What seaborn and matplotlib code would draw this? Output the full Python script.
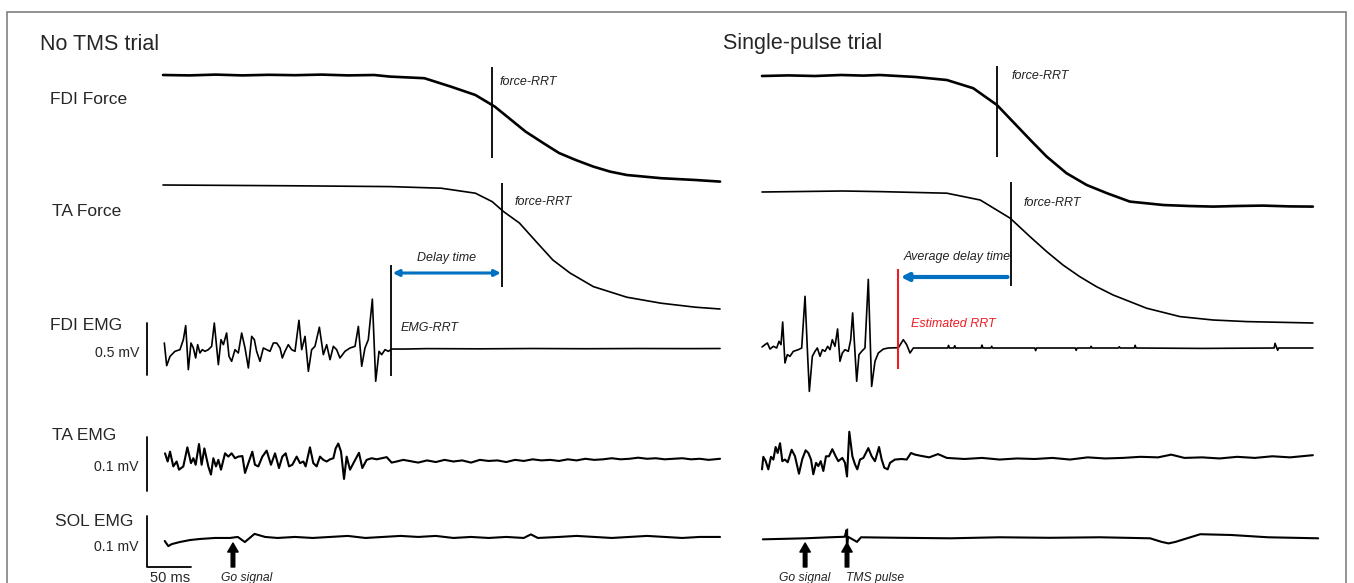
import numpy as np
import matplotlib
matplotlib.use("Agg")
import matplotlib.pyplot as plt
import seaborn as sns
from matplotlib.patches import Rectangle

# ---------------- data (time in ms from sweep start) ----------------
# No TMS trial
nt_fdi_force_t = [0, 30, 60, 90, 120, 150, 180, 210, 240, 258, 297, 327, 355, 377, 393, 412, 432, 450, 469, 489,
                  508, 527, 566, 605, 633]
nt_fdi_force_n = [5.4, 5.38, 5.42, 5.38, 5.41, 5.39, 5.42, 5.38, 5.4, 5.32, 5.24, 4.82, 4.4, 3.82, 3.25, 2.57,
                  2.0, 1.5, 1.15, 0.82, 0.57, 0.4, 0.24, 0.15, 0.07]
nt_ta_force_t = [0, 150, 258, 316, 355, 374, 387, 405, 424, 443, 462.5, 489, 527, 566, 605, 633]
nt_ta_force_n = [6.2, 6.16, 6.12, 6.04, 5.79, 5.37, 4.87, 4.3, 3.37, 2.45, 1.8, 1.12, 0.59, 0.29, 0.09, 0.0]

nt_fdi_emg_t = [1.5, 4.2, 8.0, 13.6, 19.3, 23.1, 25.8, 28.8, 31.8, 34.5, 37.1, 39.4, 42.0, 44.7, 47.7, 51.5,
                55.3, 58.3, 62.9, 65.9, 68.6, 72.3, 75.0, 78.0, 81.8, 85.6, 89.4, 93.2, 97.0, 100.8, 103.8,
                106.4, 110.2, 114.0, 117.8, 121.6, 125.4, 129.2, 133.0, 135.6, 138.6, 142.4, 146.2, 150.0,
                154.5, 157.6, 161.4, 165.2, 168.9, 172.7, 177.7, 182.2, 186.0, 189.8, 193.6, 197.3, 201.1,
                206.8, 212.5, 218.2, 222.0, 225.8, 229.5, 233.3, 237.9, 241.7, 245.5, 248.5, 252.3, 256.1,
                259.8, 275, 300, 360, 420, 480, 540, 600, 633]
nt_fdi_emg_mv = [0.048, -0.17, -0.08, -0.032, -0.016, 0.08, 0.215, -0.208, 0.048, 0.0, -0.096, 0.032, -0.048,
                 -0.016, -0.032, -0.016, 0.016, 0.24, -0.16, 0.08, 0.032, 0.144, -0.08, -0.128, -0.016, -0.048,
                 0.144, 0.0, -0.192, 0.112, 0.08, -0.032, -0.128, 0.0, -0.016, -0.032, 0.048, 0.048, 0.0,
                 -0.096, -0.032, 0.032, -0.016, -0.032, 0.266, -0.016, 0.112, -0.224, -0.016, 0.016, 0.2,
                 -0.064, 0.032, -0.112, 0.016, -0.016, -0.096, -0.032, 0.0, 0.016, 0.208, -0.176, 0.0, 0.08,
                 0.47, -0.32, -0.032, -0.064, -0.016, -0.032, -0.01, -0.01, -0.006, -0.008, -0.005, -0.007,
                 -0.005, -0.006, -0.005]

nt_ta_emg_t = [2.3, 5.3, 8, 11.7, 15.5, 18.2, 23.1, 27.7, 31.8, 34.5, 37.1, 40.9, 43.9, 47, 51.5, 54.5, 57.2,
               60.2, 62.9, 65.9, 70.5, 74.2, 78, 81.8, 85.6, 90.2, 93.2, 97, 101.5, 104.5, 108.3, 112.9, 117.8,
               122.7, 127.3, 131.8, 135.6, 139.4, 143.2, 147, 151.9, 155.7, 159.5, 162.1, 167, 170.8, 174.6,
               178.4, 182.2, 186, 189.8, 193.6, 196.2, 199.2, 202.3, 205.7, 208.7, 212.5, 217.4, 222.7, 226.5,
               231.4, 237.1, 242.8, 248.5, 254.2, 259.8, 265.5, 273, 280, 290, 300, 310, 320, 330, 340, 350,
               360, 370, 380, 390, 400, 410, 420, 430, 440, 450, 460, 470, 480, 490, 500, 510, 520, 530, 540,
               550, 560, 570, 580, 590, 600, 610, 620, 633]
nt_ta_emg_mv = [0.015, 0.0, 0.018, -0.009, 0.0, -0.015, -0.009, 0.026, -0.003, 0.006, -0.006, 0.032, -0.006,
                0.024, -0.009, -0.024, 0.006, -0.009, 0.003, -0.015, 0.015, 0.009, 0.015, 0.006, 0.009, 0.01,
                -0.021, -0.003, 0.018, -0.006, -0.009, 0.009, 0.02, -0.006, 0.015, -0.012, 0.009, 0.015, -0.009,
                -0.006, 0.009, -0.003, 0.0, -0.009, 0.026, -0.003, -0.009, 0.009, 0.003, 0.0, 0.004, 0.006,
                0.024, 0.033, 0.018, -0.032, 0.009, -0.015, 0.0, 0.016, -0.012, 0.003, 0.006, 0.004, 0.006,
                0.008, -0.002, 0.0, 0.003, 0.001, -0.002, 0.002, -0.001, 0.003, 0.0, 0.002, -0.002, 0.003,
                0.001, 0.002, -0.001, 0.003, 0.001, 0.004, 0.002, 0.003, 0.001, 0.004, 0.002, 0.005, 0.003,
                0.004, 0.006, 0.004, 0.005, 0.007, 0.005, 0.006, 0.004, 0.005, 0.006, 0.004, 0.005, 0.003,
                0.005]

nt_sol_emg_t = [2, 6, 10, 19, 31, 42, 59, 76, 85, 93, 104, 116, 130, 150, 170, 190, 210, 230, 250, 270, 290,
                310, 330, 350, 370, 390, 410, 418, 426, 450, 470, 490, 510, 530, 550, 570, 590, 610, 633]
nt_sol_emg_mv = [-0.002, -0.012, -0.008, -0.004, 0.0, 0.002, 0.004, 0.004, 0.006, -0.004, 0.012, 0.006, 0.004,
                 0.006, 0.004, 0.006, 0.008, 0.004, 0.006, 0.008, 0.006, 0.008, 0.004, 0.006, 0.004, 0.006,
                 0.004, 0.011, 0.004, 0.006, 0.008, 0.006, 0.004, 0.006, 0.008, 0.006, 0.004, 0.006, 0.006]

nt_rrt_fdi_force = 374
nt_rrt_ta_force = 385
nt_rrt_emg = 259
nt_go = 79.5

# Single-pulse trial
sp_fdi_force_t = [0, 30, 60, 90, 115, 134, 175, 210, 240, 267, 285, 305, 323.5, 346, 369, 392, 418, 456, 485,
                  512.5, 540, 569, 600, 626]
sp_fdi_force_n = [6.6, 6.63, 6.6, 6.65, 6.62, 6.65, 6.55, 6.4, 5.99, 5.15, 4.32, 3.4, 2.57, 1.74, 1.15, 0.74,
                  0.32, 0.15, 0.1, 0.07, 0.1, 0.12, 0.08, 0.07]
sp_ta_force_t = [0, 92, 134, 210, 248, 282, 304.5, 323.5, 342, 361, 380, 399, 437, 475, 512.5, 551, 626]
sp_ta_force_n = [6.55, 6.6, 6.57, 6.49, 6.15, 5.24, 4.32, 3.57, 2.9, 2.32, 1.82, 1.4, 0.74, 0.32, 0.15, 0.07, 0.0]

sp_fdi_emg_t = [0, 3.4, 6.1, 9.1, 12.9, 16.7, 19.3, 21.6, 23.5, 26.1, 28.8, 31.8, 35.6, 41.3, 45.1, 48.9,
                51.9, 53.8, 57.2, 60.2, 62.9, 65.9, 68.6, 71.6, 74.6, 77.3, 79.9, 82.9, 85.9, 88.6, 91.3, 94.3,
                98.1, 100.8, 103.0, 107.6, 110.2, 113.3, 117.0, 120.8, 124.6, 128.4, 132.2, 137.9, 143.6, 155,
                160.6, 164.4, 168.2, 172, 190, 211, 212, 213, 218, 219, 220, 249, 250, 251, 260, 261, 262, 310,
                311, 312, 356, 357, 358, 373, 374, 375, 405, 406, 407, 423, 424, 425, 500, 582, 583, 585, 586,
                587, 626]
sp_fdi_emg_mv = [0.01, 0.032, 0.048, -0.01, 0.016, 0.0, 0.064, 0.032, 0.25, -0.144, -0.064, -0.08, -0.032,
                 -0.016, 0.0, 0.497, -0.08, -0.417, -0.08, -0.032, 0.0, -0.08, -0.016, -0.032, 0.016, -0.016,
                 0.08, 0.016, 0.183, -0.128, -0.048, -0.016, -0.032, 0.08, 0.337, -0.32, -0.064, -0.032, 0.0,
                 0.66, -0.369, -0.128, -0.048, -0.01, 0.0, 0.003, 0.08, 0.032, -0.048, 0.0, 0.0, 0.0, 0.025,
                 0.0, 0.0, 0.022, 0.0, 0.0, 0.028, 0.0, 0.0, 0.016, 0.0, 0.0, -0.025, 0.0, 0.0, -0.022, 0.0,
                 0.0, 0.016, 0.0, 0.0, 0.012, 0.0, 0.0, 0.026, 0.0, -0.004, 0.0, 0.045, 0.0, -0.022, 0.0, 0.0]

sp_ta_emg_t = [0, 1.5, 4.2, 7.2, 10.2, 12.9, 15.5, 17.8, 20.5, 23.1, 26.1, 29.2, 33.7, 37.5, 42, 45.8, 49.6,
               52.7, 55.7, 58.3, 61.4, 64, 66.7, 69.7, 72.7, 76.1, 79.9, 83.7, 86.7, 91.3, 94.3, 96.6, 99.2,
               102.7, 105.7, 108.3, 111.4, 115.2, 120.8, 124.6, 128.4, 133, 136, 139, 142.8, 145.5, 151.1,
               158.7, 164.4, 169.3, 173.9, 180, 190, 200, 210, 230, 250, 270, 290, 310, 330, 350, 370, 390,
               410, 430, 450, 465, 480, 500, 520, 540, 560, 580, 600, 626]
sp_ta_emg_mv = [-0.019, 0.004, -0.004, -0.019, 0.004, -0.001, 0.022, 0.011, 0.029, -0.004, -0.001, -0.006,
                0.017, 0.005, -0.027, 0.0, 0.016, 0.011, -0.001, -0.028, -0.007, -0.013, -0.004, -0.022, 0.005,
                0.005, 0.018, 0.005, -0.004, 0.002, -0.007, -0.032, 0.05, 0.005, -0.01, -0.019, -0.001, 0.002,
                0.02, 0.005, -0.004, 0.022, -0.001, -0.016, -0.019, -0.007, -0.001, 0.0, -0.001, 0.011, 0.008,
                0.006, 0.003, 0.009, 0.002, 0.0, 0.002, -0.001, 0.001, 0.0, 0.002, -0.001, 0.003, 0.001,
                0.002, 0.004, 0.003, 0.008, 0.002, 0.003, 0.001, 0.004, 0.002, 0.005, 0.003, 0.007]

sp_sol_emg_t = [1, 26, 49, 77, 94, 96, 96.6, 97.7, 108, 112.5, 157, 214, 270, 327, 384, 441, 454, 462, 470,
                483, 498, 533, 575, 632]
sp_sol_emg_mv = [-0.002, -0.001, 0.0, 0.002, 0.003, 0.016, -0.019, 0.003, -0.007, 0.002, 0.001, 0.0, 0.002,
                 0.001, 0.002, 0.0, -0.007, -0.01, -0.007, 0.0, 0.008, 0.0065, 0.002, 0.0]

sp_rrt_fdi_force = 267
sp_rrt_ta_force = 283
sp_rrt_est = 154.5
sp_go = 49
sp_tms = 96.6

# ---------------- layout ----------------
W, H = 1354, 583
PX_PER_MS = 0.88
BLUE = "#0070c0"
RED = "#ee1c25"

sns.set_theme(style="white")
plt.rcParams["font.family"] = ["Liberation Sans", "DejaVu Sans"]

fig = plt.figure(figsize=(W / 100, H / 100), dpi=100)
split = 740
ax_l = fig.add_axes([0, 0, split / W, 1])
ax_r = fig.add_axes([split / W, 0, (W - split) / W, 1])
for ax in (ax_l, ax_r):
    ax.patch.set_alpha(0)


def fpx(x, y):
    return x / W, 1 - y / H


def trace(ax, t, v, base, gain, lw=1.2):
    y = base - gain * np.asarray(v, dtype=float)
    sns.lineplot(x=np.asarray(t, dtype=float), y=y, ax=ax, color="black", lw=lw,
                 estimator=None, sort=False)


def vline(ax, t, y0, y1, color="black", lw=1.3):
    ax.plot([t, t], [y0, y1], color=color, lw=lw, solid_capstyle="butt")


def note(ax, t, y, s, color="#222222", ha="left"):
    ax.text(t, y, s, fontsize=9, style="italic", color=color, ha=ha, va="center")


def go_arrow(ax, t):
    ax.annotate("", xy=(t, 543), xytext=(t, 567),
                arrowprops=dict(arrowstyle="simple,head_width=0.75,head_length=0.65,tail_width=0.26",
                                color="black", shrinkA=0, shrinkB=0, mutation_scale=10),
                annotation_clip=False)


# left panel traces
trace(ax_l, nt_fdi_force_t, nt_fdi_force_n, 183, 20, lw=1.9)
trace(ax_l, nt_ta_force_t, nt_ta_force_n, 309, 20, lw=1.2)
trace(ax_l, nt_fdi_emg_t, nt_fdi_emg_mv, 348, 104, lw=1.2)
trace(ax_l, nt_ta_emg_t, nt_ta_emg_mv, 461.5, 545, lw=1.5)
trace(ax_l, nt_sol_emg_t, nt_sol_emg_mv, 540, 510, lw=1.5)

vline(ax_l, nt_rrt_fdi_force, 67, 158)
vline(ax_l, nt_rrt_ta_force, 183, 287)
vline(ax_l, nt_rrt_emg, 265, 376)
note(ax_l, nt_rrt_fdi_force + 9, 82, "force-RRT")
note(ax_l, nt_rrt_ta_force + 15, 202, "force-RRT")
note(ax_l, nt_rrt_emg + 11, 328, "EMG-RRT")
note(ax_l, (nt_rrt_emg + nt_rrt_ta_force) / 2, 258, "Delay time", ha="center")
ax_l.annotate("", xy=(nt_rrt_ta_force - 1, 273), xytext=(nt_rrt_emg + 2, 273),
              arrowprops=dict(arrowstyle="<|-|>", color=BLUE, lw=2.2, mutation_scale=9,
                              shrinkA=0, shrinkB=0))
go_arrow(ax_l, nt_go)

# scale bars (left panel)
bar_t = -18.2
ax_l.plot([bar_t, bar_t], [349 - 0.25 * 104, 349 + 0.25 * 104], color="black", lw=1.3)
ax_l.plot([bar_t, bar_t], [464 - 0.05 * 545, 464 + 0.05 * 545], color="black", lw=1.3)
ax_l.plot([bar_t, bar_t, bar_t + 50], [567 - 0.1 * 510, 567, 567], color="black", lw=1.3)

# right panel traces
trace(ax_r, sp_fdi_force_t, sp_fdi_force_n, 208, 20, lw=1.9)
trace(ax_r, sp_ta_force_t, sp_ta_force_n, 323, 20, lw=1.2)
trace(ax_r, sp_fdi_emg_t, sp_fdi_emg_mv, 348, 104, lw=1.2)
trace(ax_r, sp_ta_emg_t, sp_ta_emg_mv, 459, 545, lw=1.5)
trace(ax_r, sp_sol_emg_t, sp_sol_emg_mv, 538.3, 510, lw=1.5)

vline(ax_r, sp_rrt_fdi_force, 66, 157)
vline(ax_r, sp_rrt_ta_force, 182, 286)
vline(ax_r, sp_rrt_est, 269, 369, color=RED, lw=1.5)
note(ax_r, sp_rrt_fdi_force + 17, 76, "force-RRT")
note(ax_r, sp_rrt_ta_force + 14, 203, "force-RRT")
note(ax_r, sp_rrt_est + 6, 257, "Average delay time")
note(ax_r, sp_rrt_est + 15, 324, "Estimated RRT", color=RED)
ax_r.annotate("", xy=(sp_rrt_est + 3, 277), xytext=(sp_rrt_ta_force - 4, 277),
              arrowprops=dict(arrowstyle="-|>", color=BLUE, lw=3, mutation_scale=11,
                              shrinkA=0, shrinkB=0))
vline(ax_r, sp_tms, 528, 549, lw=1.0)
go_arrow(ax_r, sp_go)
go_arrow(ax_r, sp_tms)

ax_l.set_xlim((0 - 163) / PX_PER_MS, (split - 163) / PX_PER_MS)
ax_r.set_xlim((split - 762) / PX_PER_MS, (W - 762) / PX_PER_MS)
for ax in (ax_l, ax_r):
    ax.set_ylim(H, 0)
    ax.set_axis_off()

# text labels
fig.text(*fpx(40, 44), "No TMS trial", fontsize=15.5, va="center")
fig.text(*fpx(723, 44), "Single-pulse trial", fontsize=15.5, va="center")
for x, y, s in [(50, 99, "FDI Force"), (52, 211, "TA Force"), (50, 326, "FDI EMG"),
                (52, 436, "TA EMG"), (55, 521, "SOL EMG")]:
    fig.text(*fpx(x, y), s, fontsize=12.5, va="center")
for y in (353, 467, 547):
    fig.text(*fpx(139, y), "0.5 mV" if y == 353 else "0.1 mV", fontsize=10.2, va="center", ha="right")
fig.text(*fpx(170, 578), "50 ms", fontsize=10.5, va="center", ha="center")
fig.text(*fpx(247, 578), "Go signal", fontsize=8.7, style="italic", va="center", ha="center", color="#222222")
fig.text(*fpx(805, 578), "Go signal", fontsize=8.7, style="italic", va="center", ha="center", color="#222222")
fig.text(*fpx(875, 578), "TMS pulse", fontsize=8.7, style="italic", va="center", ha="center", color="#222222")

# frame
fig.add_artist(Rectangle((7 / W, -0.05), (1346 - 7) / W, 1.05 - 12 / H, transform=fig.transFigure,
                         fill=False, ec="#808080", lw=1.2))

fig.savefig("out.png", dpi=100)
